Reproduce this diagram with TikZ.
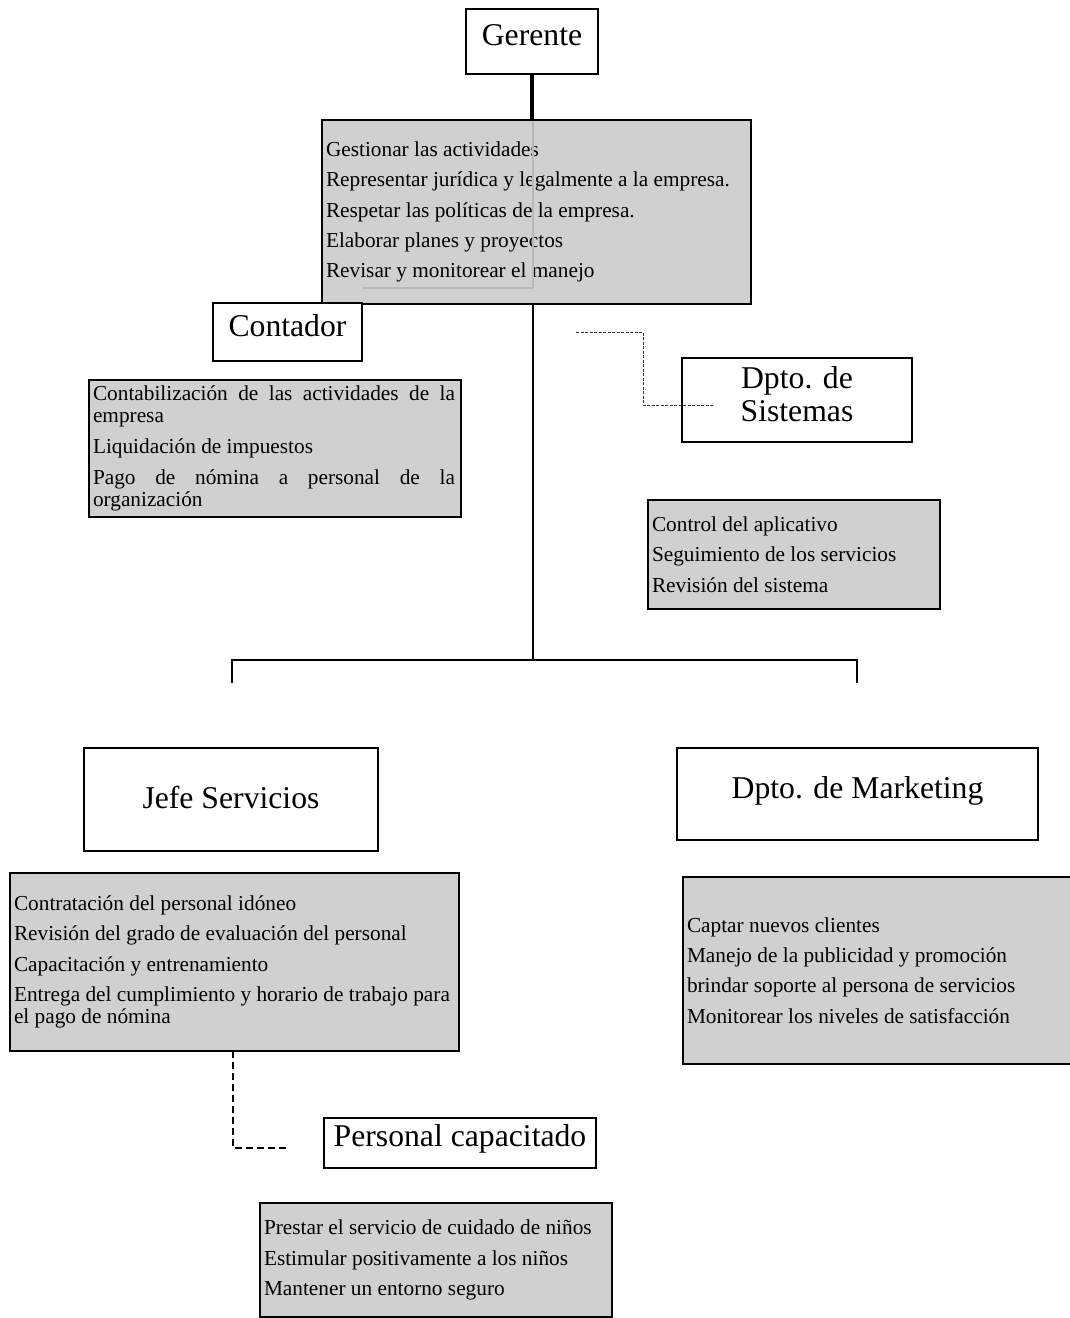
\documentclass[tikz,border=0pt]{standalone}
\usepackage{fontspec}
\setmainfont{Liberation Serif}
\usetikzlibrary{calc}
\definecolor{boxgray}{RGB}{208,208,208}
\definecolor{seamgray}{RGB}{184,184,184}
% a line stretched to the full width of the duty text
\newcommand\fullline[1]{\makebox[362pt][s]{#1}}

\begin{document}
\begin{tikzpicture}[x=1pt,y=-1pt,
  title/.style={draw, line width=2.2pt, fill=white, inner sep=0pt, outer sep=0pt,
    anchor=base, align=center, font=\fontsize{31.7}{33}\selectfont},
  duties/.style={draw, line width=2.2pt, fill=boxgray, inner xsep=4pt, inner ysep=0pt,
    outer sep=0pt, anchor=north west, align=left, font=\fontsize{21.3}{30.4}\selectfont,
    execute at begin node={\spaceskip=0pt\xspaceskip=0pt}},
  tree/.style={line width=1.8pt},
  sysdash/.style={line width=1pt, black!80, dash pattern=on 3pt off 1.5pt},
  persdash/.style={line width=1.6pt, dash pattern=on 7pt off 4pt}]
\useasboundingbox (0,0) rectangle (1070,1318);

% --- Gerente -------------------------------------------------------------
\node[title, minimum width=132, text height=36pt, text depth=29pt] (Ger) at (532,45) {Gerente};
\node[duties, text width=421pt, minimum height=184] (G1) at (322,120)
  {Gestionar las actividades\\
   Representar jurídica y legalmente a la empresa.\\
   Respetar las políticas de la empresa.\\
   Elaborar planes y proyectos\\
   Revisar y monitorear el manejo};
\draw[line width=3.2pt] (Ger.south) -- (Ger.south |- G1.north);
% seam of the connector showing through the box
\draw[seamgray, line width=2.4pt] (533,121) -- (533,288) -- (362,288);

% --- Contador ------------------------------------------------------------
\node[title, minimum width=149, text height=33pt, text depth=25pt] (Con) at (287.5,336) {Contador};
\node[duties, text width=364pt, minimum height=137, font=\fontsize{21.3}{31}\selectfont] (C1) at (89,380)
  {\fullline{Contabilización de las actividades de la}\\[-9pt]
   empresa\\
   Liquidación de impuestos\\
   \fullline{Pago de nómina a personal de la}\\[-9pt]
   organización};

% --- Dpto. de Sistemas ---------------------------------------------------
\node[title, anchor=center, minimum width=230, minimum height=84] (Sis) at (797,400)
  {Dpto. de\\Sistemas\rule[-13pt]{0pt}{0pt}};
\node[duties, text width=284pt, minimum height=109] (S1) at (648,500)
  {Control del aplicativo\\
   Seguimiento de los servicios\\
   Revisión del sistema};
\coordinate (sysA) at (576,332);
\draw[sysdash] (sysA) -- ++(67,0) |- ($(Sis.west)+(31,5)$);

% --- main trunk and branches ---------------------------------------------
\coordinate (hub) at (533,660);
\coordinate (dropL) at (232,683);
\coordinate (dropR) at (857,683);
\draw[tree] (G1.south -| hub) -- (hub);
\draw[tree] (dropL) -- (dropL |- hub) -- (dropR |- hub) -- (dropR);

% --- Jefe Servicios ------------------------------------------------------
\node[title, minimum width=294, text height=60pt, text depth=43pt] (Jefe) at (231,808) {Jefe Servicios};
\node[duties, text width=441pt, minimum height=178] (J1) at (10,873)
  {Contratación del personal idóneo\\
   Revisión del grado de evaluación del personal\\
   Capacitación y entrenamiento\\
   \mbox{Entrega del cumplimiento y horario de trabajo para}\\[-8.4pt]
   el pago de nómina};

% --- Dpto. de Marketing --------------------------------------------------
\node[title, minimum width=361, text height=50pt, text depth=42pt] (Mkt) at (857.5,798) {Dpto. de Marketing};
\node[duties, text width=381pt, minimum height=187] (M1) at (683,877)
  {Captar nuevos clientes\\
   Manejo de la publicidad y promoción\\
   brindar soporte al persona de servicios\\
   Monitorear los niveles de satisfacción};

% --- Personal capacitado -------------------------------------------------
\node[title, minimum width=272, text height=28pt, text depth=22pt] (Pers) at (460,1146) {Personal capacitado};
\node[duties, text width=344pt, minimum height=114] (P1) at (260,1203)
  {Prestar el servicio de cuidado de niños\\
   Estimular positivamente a los niños\\
   Mantener un entorno seguro};
\draw[persdash] ($(J1.south west)+(223,0)$) |- ($(Pers.west)+(-38,5)$);
\end{tikzpicture}
\end{document}
